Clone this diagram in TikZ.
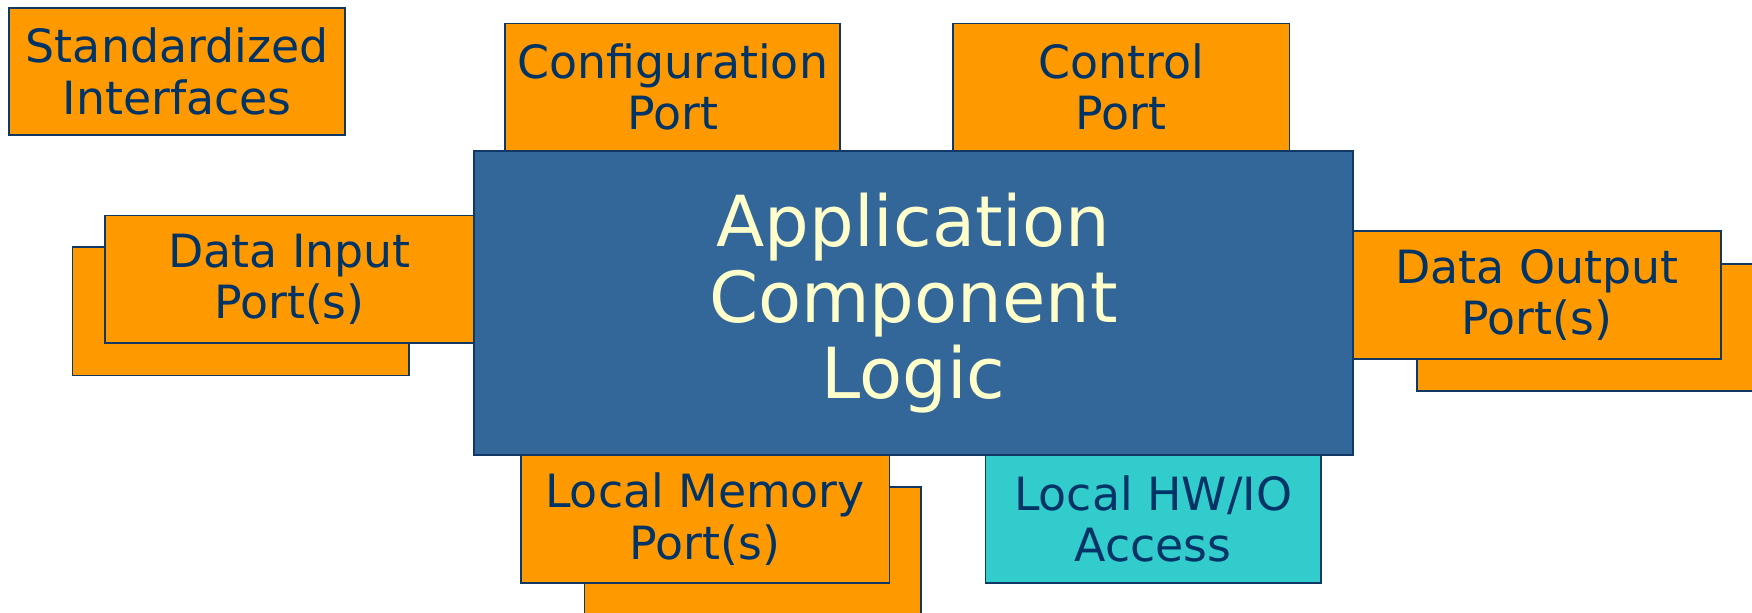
\documentclass[tikz,border=0pt]{standalone}
\usepackage{fontspec}
\setmainfont{DejaVu Sans}
\definecolor{portorange}{RGB}{255,153,0}
\definecolor{logicblue}{RGB}{51,102,153}
\definecolor{hwcyan}{RGB}{51,204,204}
\definecolor{edgeblue}{RGB}{16,56,102}
\definecolor{labelblue}{RGB}{0,51,102}
\definecolor{logictext}{RGB}{255,255,204}
\tikzset{
  portbox/.style={draw=edgeblue, line width=1.5pt, fill=portorange, inner sep=0pt,
    align=center, text=labelblue, font=\fontsize{41}{46}\selectfont},
  hwbox/.style={portbox, fill=hwcyan},
  logicbox/.style={draw=edgeblue, line width=1.5pt, fill=logicblue, inner sep=0pt,
    align=center, text=logictext, font=\fontsize{63}{68}\selectfont},
  sz/.style 2 args={minimum width=#1pt, minimum height=#2pt}
}
\begin{document}
\begin{tikzpicture}[x=1pt,y=-1pt]
\useasboundingbox (0,0) rectangle (1568,548);
\clip (0,0) rectangle (1568,548);
\fill[white] (0,0) rectangle (1568,548);

% legend box
\node[portbox, sz={301}{114}] (std) at (158.5,64) {Standardized\\Interfaces};

% stacked ports (back copies first)
\node[portbox, sz={301}{115}] (inback)  at (215.5,278.5) {};
\node[portbox, sz={301}{114}] (outback) at (1418.5,293) {};
\node[portbox, sz={301}{114}] (memback) at (673.5,493) {};

\node[portbox, sz={330}{114}] (infront)  at (259,250) {Data Input\\Port(s)};
\node[portbox, sz={329}{114}] (outfront) at (1375.5,264) {Data Output\\Port(s)};
\node[portbox, sz={330}{115}] (memfront) at (631,464.5) {Local Memory\\Port(s)};
\node[hwbox,   sz={300}{115}] (hwio)     at (1032,464.5) {Local HW/IO\\Access};

\node[portbox, sz={300}{114}] (config)  at (602,78) {Configuration\\Port};
\node[portbox, sz={301}{114}] (control) at (1003.5,78) {Control\\Port};

% central component
\node[logicbox, sz={787}{272}] (logic) at (817.5,271) {Application\\Component\\Logic};
\end{tikzpicture}
\end{document}
